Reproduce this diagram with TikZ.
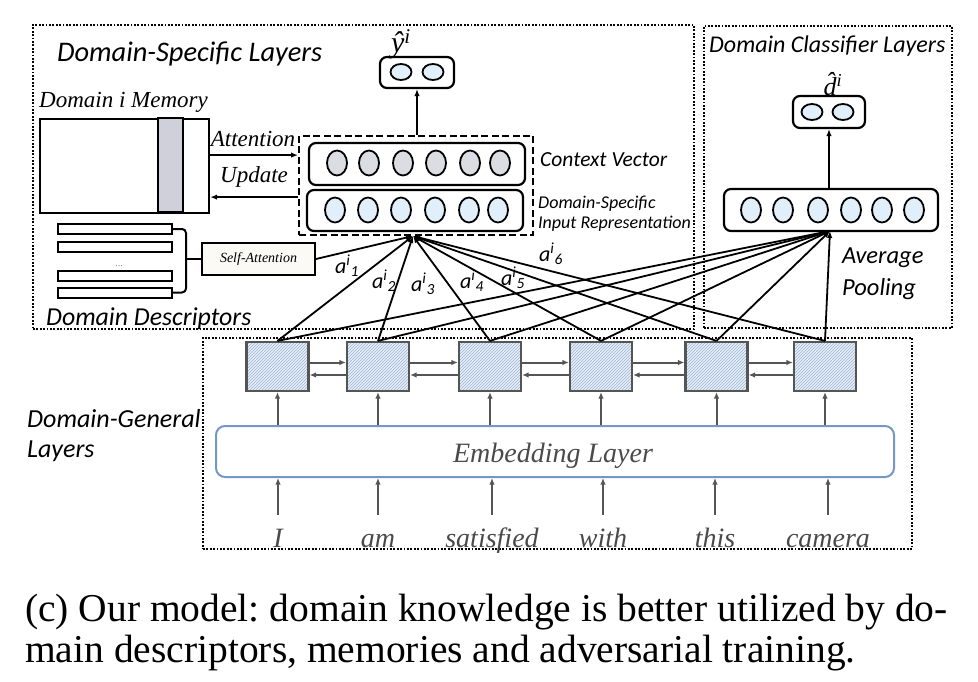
\documentclass[tikz,border=0pt]{standalone}
\usepackage{fontspec}
\setmainfont{Liberation Serif}
\newfontfamily\calfont{Carlito}
\usetikzlibrary{arrows.meta,patterns,shapes.geometric,calc}
\definecolor{ctxfill}{HTML}{DCDCE3}
\definecolor{infill}{HTML}{E1EFFA}
\definecolor{memgray}{HTML}{CFD0D9}
\definecolor{hatchbg}{HTML}{E6EEF7}
\definecolor{hatchln}{HTML}{9DB7D6}
\definecolor{boxgray}{HTML}{555555}
\definecolor{embblue}{HTML}{7398C8}
\definecolor{txtgray}{HTML}{4A4A4A}
\definecolor{sabg}{HTML}{FBFAF5}
\frenchspacing
\tikzset{
  dotbox/.style={draw, line width=1.8pt, dash pattern=on 1.8pt off 1.6pt, inner sep=0, anchor=north west},
  arr/.style={line width=1.8pt, -{Latex[length=7pt,width=5.5pt]}},
  garr/.style={draw=boxgray, line width=2pt, -{Latex[length=6.5pt,width=5.5pt]}},
  layer/.style={draw, line width=2.2pt, rounded corners=7pt, inner sep=0},
  neu/.style={ellipse, draw, line width=1.8pt, minimum width=20pt, minimum height=25pt, inner sep=0},
  sneu/.style={neu, minimum height=16pt, minimum width=21pt, fill=infill},
  bar/.style={draw, line width=2pt, minimum width=114pt, minimum height=10pt, inner sep=0, fill=white},
  hid/.style={draw=boxgray, line width=2.2pt, minimum width=62pt, minimum height=49pt, inner sep=0,
    preaction={fill=hatchbg}, pattern=north east lines, pattern color=hatchln},
  sans/.style={font=\calfont\itshape\fontsize{#1}{#1}\selectfont, inner sep=0},
  serif/.style={font=\itshape\fontsize{#1}{#1}\selectfont, inner sep=0},
  word/.style={anchor=base, font=\itshape\fontsize{28}{30}\selectfont, text=txtgray, inner sep=0, text height=20pt, text depth=6pt},
}
\begin{document}
\begin{tikzpicture}[x=1pt,y=-1pt]
\useasboundingbox (0,0) rectangle (978,682);
% outer dotted boxes
\node[dotbox, minimum width=661pt, minimum height=304pt] (dsbox) at (32,24) {};
\node[dotbox, minimum width=248pt, minimum height=302pt] (dcbox) at (703,25) {};
\node[dotbox, minimum width=709pt, minimum height=211pt] (dgbox) at (202,337) {};
% titles
\node[sans=28.4, anchor=base west] (tds) at (57,62) {Domain-Specific Layers};
\node[sans=24, anchor=base west] (tdc) at (709,53) {Domain Classifier Layers};
\node[sans=25.8, anchor=base west] (tdd) at (46,325) {Domain Descriptors};
\node[sans=26, anchor=base west] (tdg1) at (27,427) {Domain-General};
\node[sans=26, anchor=base west] (tdg2) at (27,457) {Layers};
% memory
\node[serif=23, anchor=base west] (tmem) at (39,108) {Domain i Memory};
\node[draw, line width=2.2pt, minimum width=169pt, minimum height=94pt, inner sep=0, anchor=north west] (mem) at (39,118) {};
\node[draw, line width=2.2pt, fill=memgray, minimum width=25pt, minimum height=94pt, inner sep=0] (stripe) at (170.5,165) {};
% dashed group
\node[draw, line width=2pt, dash pattern=on 7pt off 3.5pt, minimum width=234pt, minimum height=99pt, inner sep=0] (dash) at (416,185.5) {};
\node[layer, minimum width=216pt, minimum height=42pt] (ctx) at (417,164) {};
\node[layer, minimum width=216pt, minimum height=41pt] (inp) at (415,210.5) {};
\foreach \x [count=\i] in {337,369,403,436,470,500} \node[neu, fill=ctxfill] (c\i) at (\x,163) {};
\foreach \x [count=\i] in {335,368,401,435,469,498} \node[neu, fill=infill] (n\i) at (\x,210) {};
\node[sans=21.5, anchor=base west] (tctx) at (540,167) {Context Vector};
\node[sans=18, anchor=base west] (tin1) at (538,208) {Domain-Specific};
\node[sans=18, anchor=base west] (tin2) at (538,229) {Input Representation};
% attention / update
\draw[arr] ([yshift=11pt]mem.east) -- ([yshift=11pt]mem.east -| dash.west);
\draw[arr] ([yshift=-31pt]mem.east -| dash.west) -- ([yshift=-31pt]mem.east);
\node[serif=23, anchor=base] (tatt) at (253,147) {Attention};
\node[serif=23, anchor=base] (tupd) at (254,183) {Update};
% output y
\node[layer, minimum width=74pt, minimum height=31pt] (ybox) at (417,72.5) {};
\node[sneu] (y1) at (401,72) {};
\node[sneu] (y2) at (433,72) {};
\node[serif=30] (yhat) at (401,44) {\^{y}\textsuperscript{i}};
\draw[arr] (dash.north -| ybox.south) -- (ybox.south);
% descriptors
\node[bar] (b1) at (115,229) {};
\node[bar] (b2) at (115,246.5) {};
\node[bar] (b3) at (115,276) {};
\node[bar] (b4) at (115,292.5) {};
\node[text=gray, font=\fontsize{10}{10}\selectfont, inner sep=1pt] (dots) at (119,266) {...};
\node[draw, line width=2pt, fill=sabg, minimum width=113pt, minimum height=32pt, inner sep=0] (sa) at (258.5,259) {};
\node[serif=14] (tsa) at (sa.center) {Self-Attention};
\coordinate (br) at (186,259);
\draw[line width=2pt, rounded corners=4pt] (b1.east) -- (b1.east -| br) -- (b4.east -| br) -- (b4.east);
\draw[line width=2pt] (br) -- (sa.west);
% classifier
\node[layer, minimum width=214pt, minimum height=42pt] (pool) at (831,210) {};
\foreach \x [count=\i] in {751,783,818,851,882,914} \node[neu, fill=infill] (p\i) at (\x,210) {};
\node[layer, minimum width=72pt, minimum height=32pt] (dbox) at (829,112) {};
\node[sneu] (d1) at (812,112) {};
\node[sneu] (d2) at (843,112) {};
\node[serif=26] (dhat) at (833,84) {\^{d}\textsuperscript{i}};
\draw[arr] (pool.north -| dbox.south) -- (dbox.south);
\node[sans=24.5, anchor=base west] (tap1) at (842,263) {Average};
\node[sans=24.5, anchor=base west] (tap2) at (842,295) {Pooling};
% domain general
\node[draw=embblue, line width=2pt, rounded corners=9pt, minimum width=678pt, minimum height=51pt, inner sep=0, fill=white] (emb) at (555,451.5) {};
\node[serif=28, text=txtgray, anchor=base] (temb) at (553,462) {Embedding Layer};
\foreach \x [count=\i] in {277.5,378,490,601,716.5,825} \node[hid] (h\i) at (\x,366.5) {};
\foreach \x/\w [count=\i] in {278/I,378/am,492/satisfied,603/with,715/this,828/camera} \node[word] (w\i) at (\x,547) {\w};
\foreach \i in {1,...,6} {
  \draw[garr] ([yshift=12pt]w\i.north) -- (w\i.north |- emb.south);
  \draw[garr] (h\i.south |- emb.north) -- (h\i.south);
}
\foreach \i/\j in {1/2,2/3,3/4,4/5,5/6} {
  \draw[garr] ([yshift=4pt]h\i.east) -- ([yshift=4pt]h\j.west);
  \draw[garr] ([yshift=-8.5pt]h\j.west) -- ([yshift=-8.5pt]h\i.east);
}
% attention lines
\coordinate (cc) at (413,236);
\coordinate (pc) at (830,231);
\draw[arr] (sa.east) -- (cc);
\foreach \i in {1,...,6} {
  \draw[arr] (h\i.north) -- (cc);
  \draw[arr] (h\i.north) -- (pc);
}
\node[sans=22] (a1) at (347,266) {a\textsuperscript{i}\textsubscript{1}};
\node[sans=22] (a2) at (384,281) {a\textsuperscript{i}\textsubscript{2}};
\node[sans=22] (a3) at (423,284) {a\textsuperscript{i}\textsubscript{3}};
\node[sans=22] (a4) at (472,281) {a\textsuperscript{i}\textsubscript{4}};
\node[sans=22] (a5) at (513,278) {a\textsuperscript{i}\textsubscript{5}};
\node[sans=22] (a6) at (551,254) {a\textsuperscript{i}\textsubscript{6}};
% caption
\node[anchor=base west, font=\fontsize{39.5}{42}\selectfont, inner sep=0] (cap1) at (25,621) {(c) Our model: domain knowledge is better utilized by do-};
\node[anchor=base west, font=\fontsize{39.5}{42}\selectfont, inner sep=0] (cap2) at (25,662) {main descriptors, memories and adversarial training.};
\end{tikzpicture}
\end{document}
